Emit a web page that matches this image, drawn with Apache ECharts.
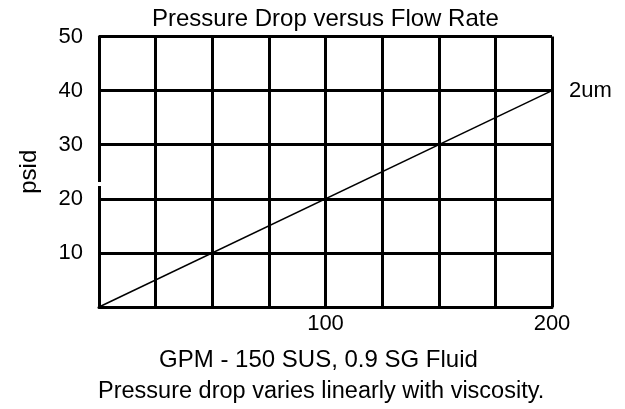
<!DOCTYPE html>
<html><head><meta charset="utf-8">
<script src="https://cdn.jsdelivr.net/npm/echarts@6/dist/echarts.min.js"></script>
<style>html,body{margin:0;padding:0;background:#fff;}#c{width:625px;height:409px;}</style>
</head><body><div id="c"></div>
<script>
var flowGPM = [0, 200];
var pressurePsid = [0, 40];
var seriesName = '2um';
var xTickLabels = [100, 200];
var yTickLabels = [10, 20, 30, 40, 50];
var titleText = 'Pressure Drop versus Flow Rate';
var xAxisName = 'GPM - 150 SUS, 0.9 SG Fluid';
var yAxisName = 'psid';
var footerText = 'Pressure drop varies linearly with viscosity.';

var FONT = '"Liberation Sans", Arial, sans-serif';
var chart = echarts.init(document.getElementById('c'), null, {renderer: 'canvas'});
var data = flowGPM.map(function (x, i) { return [x, pressurePsid[i]]; });
chart.setOption({
  animation: false,
  backgroundColor: '#fff',
  textStyle: {fontFamily: FONT, color: '#000'},
  title: [{
    text: titleText, left: 147, top: 2,
    textStyle: {fontFamily: FONT, fontSize: 24, fontWeight: 'normal', color: '#000'}
  }, {
    text: footerText, left: 93, top: 375,
    textStyle: {fontFamily: FONT, fontSize: 23.5, fontWeight: 'normal', color: '#000'}
  }],
  grid: {left: 99, right: 73, top: 36.5, bottom: 102},
  xAxis: {
    type: 'value', min: 0, max: 200, interval: 25,
    name: xAxisName, nameLocation: 'middle', nameGap: 41,
    nameTextStyle: {fontFamily: FONT, fontSize: 24, color: '#000', padding: [0, 14, 0, 0]},
    axisLine: {show: true, lineStyle: {color: '#000', width: 3}},
    axisTick: {show: false},
    axisLabel: {
      fontFamily: FONT, fontSize: 22, color: '#000', margin: 6,
      formatter: function (v) { return xTickLabels.indexOf(v) >= 0 ? String(v) : ''; }
    },
    splitLine: {show: true, lineStyle: {color: '#000', width: 3}}
  },
  yAxis: {
    type: 'value', min: 0, max: 50, interval: 10,
    name: yAxisName, nameLocation: 'middle', nameGap: 58, nameRotate: 90,
    nameTextStyle: {fontFamily: FONT, fontSize: 24, color: '#000'},
    axisLine: {show: true, lineStyle: {color: '#000', width: 3}},
    axisTick: {show: false},
    axisLabel: {
      fontFamily: FONT, fontSize: 22, color: '#000', margin: 16,
      formatter: function (v) { return yTickLabels.indexOf(v) >= 0 ? String(v) : ''; }
    },
    splitLine: {show: true, lineStyle: {color: '#000', width: 3}}
  },
  series: [{
    type: 'line', name: seriesName, data: data,
    symbol: 'none', lineStyle: {color: '#000', width: 1.5},
    endLabel: {show: true, formatter: seriesName, distance: 17,
      fontFamily: FONT, fontSize: 22, color: '#000'}
  }],
  graphic: [{
    type: 'rect', shape: {x: 96, y: 182, width: 6, height: 4},
    style: {fill: '#fff'}, z: 100
  }]
});
</script></body></html>
